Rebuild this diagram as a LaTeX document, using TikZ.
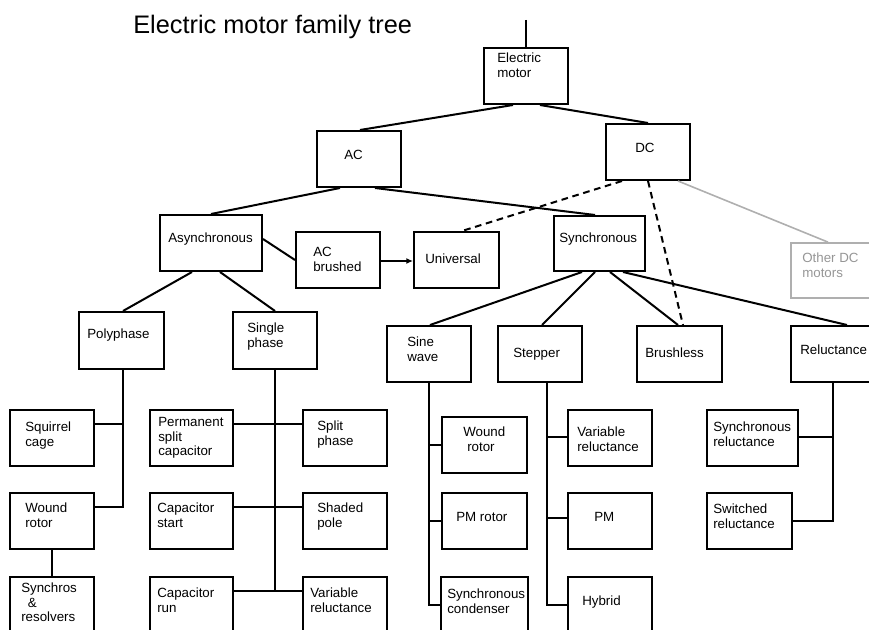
\documentclass[tikz,border=0pt]{standalone}
\usepackage{fontspec}
\setmainfont{Liberation Sans}
\usetikzlibrary{fit,arrows.meta}
\definecolor{lgray}{RGB}{175,175,175}
\definecolor{tgray}{RGB}{150,150,150}
\begin{document}
\begin{tikzpicture}[x=0.75pt,y=-0.75pt,
  box/.style={draw, line width=1.5pt, inner sep=0pt},
  gbox/.style={draw=lgray, line width=1.3pt, inner sep=0pt},
  lbl/.style={font=\fontsize{10}{10.6}\selectfont, inner sep=0pt, anchor=base west, align=left},
  twol/.style={yshift=-10.6pt},
  threel/.style={yshift=-21.2pt},
  conn/.style={line width=1.5pt},
  dconn/.style={line width=1.5pt, dash pattern=on 5pt off 3.5pt},
  gconn/.style={line width=1.2pt, draw=lgray}]
\useasboundingbox (0,0) rectangle (869,630);
\clip (0,0) rectangle (869,630);

% title
\node[inner sep=0pt, anchor=base west, font=\fontsize{19}{22}\selectfont] (title) at (133,34) {Electric motor family tree};

% boxes
\node[box, fit={(484,48)(568,104)}] (em) {};
\node[box, fit={(317,131)(401,187)}] (ac) {};
\node[box, fit={(606,124)(690,180)}] (dc) {};
\node[box, fit={(160,215)(262,271)}] (async) {};
\node[box, fit={(296,232)(380,288)}] (acb) {};
\node[box, fit={(414,232)(499,288)}] (univ) {};
\node[box, fit={(554,216)(645,271)}] (sync) {};
\node[gbox, fit={(791,243)(875,298)}] (other) {};
\node[box, fit={(79,312)(164,369)}] (poly) {};
\node[box, fit={(233,312)(317,369)}] (single) {};
\node[box, fit={(10,410)(94,466)}] (sq) {};
\node[box, fit={(10,493)(94,549)}] (wr) {};
\node[box, fit={(10,577)(94,634)}] (synchros) {};
\node[box, fit={(150,410)(233,466)}] (psc) {};
\node[box, fit={(303,410)(387,466)}] (split) {};
\node[box, fit={(150,493)(233,549)}] (cstart) {};
\node[box, fit={(303,493)(387,549)}] (shaded) {};
\node[box, fit={(150,577)(233,634)}] (crun) {};
\node[box, fit={(303,577)(387,634)}] (vra) {};
\node[box, fit={(387,326)(471,382)}] (sine) {};
\node[box, fit={(498,326)(582,382)}] (stepper) {};
\node[box, fit={(637,326)(722,382)}] (brushless) {};
\node[box, fit={(791,326)(875,382)}] (reluct) {};
\node[box, fit={(442,417)(527,473)}] (wrb) {};
\node[box, fit={(442,493)(527,549)}] (pmr) {};
\node[box, fit={(441,577)(528,634)}] (scond) {};
\node[box, fit={(568,410)(652,466)}] (vrb) {};
\node[box, fit={(568,493)(652,549)}] (pm) {};
\node[box, fit={(568,577)(652,634)}] (hybrid) {};
\node[box, fit={(707,410)(798,466)}] (sr) {};
\node[box, fit={(707,493)(792,549)}] (swr) {};

% labels (given position = baseline of first line)
\node[lbl, twol] (t-em) at (497,63) {Electric\\motor};
\node[lbl] (t-ac) at (344,160) {AC};
\node[lbl] (t-dc) at (635,153) {DC};
\node[lbl] (t-async) at (168,243) {Asynchronous};
\node[lbl, twol] (t-acb) at (313,257) {AC\\brushed};
\node[lbl] (t-univ) at (425,264) {Universal};
\node[lbl] (t-sync) at (559,243) {Synchronous};
\node[lbl, twol, text=tgray] (t-other) at (802,263) {Other DC\\motors};
\node[lbl] (t-poly) at (87,339) {Polyphase};
\node[lbl, twol] (t-single) at (247,333) {Single\\phase};
\node[lbl, twol] (t-sq) at (25,432) {Squirrel\\cage};
\node[lbl, twol] (t-wr) at (25,513) {Wound\\rotor};
\node[lbl, threel] (t-synchros) at (21,593) {Synchros\\\hspace{5pt}\&\\resolvers};
\node[lbl, threel] (t-psc) at (158,427) {Permanent\\split\\capacitor};
\node[lbl, twol] (t-split) at (317,431) {Split\\phase};
\node[lbl, twol] (t-cstart) at (157,513) {Capacitor\\start};
\node[lbl, twol] (t-shaded) at (317,513) {Shaded\\pole};
\node[lbl, twol] (t-crun) at (157,598) {Capacitor\\run};
\node[lbl, twol] (t-vra) at (310,598) {Variable\\reluctance};
\node[lbl, twol] (t-sine) at (407,347) {Sine\\wave};
\node[lbl] (t-stepper) at (513,358) {Stepper};
\node[lbl] (t-brushless) at (645,358) {Brushless};
\node[lbl] (t-reluct) at (800,355) {Reluctance};
\node[lbl, twol] (t-wrb) at (463,437) {Wound\\\hspace{3pt}rotor};
\node[lbl] (t-pmr) at (456,522) {PM rotor};
\node[lbl, twol] (t-scond) at (447,599) {Synchronous\\condenser};
\node[lbl, twol] (t-vrb) at (577,437) {Variable\\reluctance};
\node[lbl] (t-pm) at (594,522) {PM};
\node[lbl] (t-hybrid) at (582,606) {Hybrid};
\node[lbl, twol] (t-sr) at (713,432) {Synchronous\\reluctance};
\node[lbl, twol] (t-swr) at (713,514) {Switched\\reluctance};

% connectors
\coordinate (top) at (526,20);
\draw[conn] (top) -- (em.north);
\draw[conn] (513,0 |- em.south) -- (360,0 |- ac.north);
\draw[conn] (540,0 |- em.south) -- (dc.north);
\draw[conn] (340,0 |- ac.south) -- (async.north);
\draw[conn] (375,0 |- ac.south) -- (595,0 |- sync.north);
\draw[conn] (async.east |- 0,239) -- (acb.west |- 0,260);
\draw[line width=1pt, -{Latex[length=5pt,width=4.5pt]}] (acb.east |- 0,261) -- (univ.west |- 0,261);
\draw[dconn] (622,0 |- dc.south) -- (462,0 |- univ.north);
\draw[dconn] (648,0 |- dc.south) -- (683,0 |- brushless.north);
\draw[gconn] (678,0 |- dc.south) -- (828,0 |- other.north);
\draw[conn] (192,0 |- async.south) -- (123,0 |- poly.north);
\draw[conn] (220,0 |- async.south) -- (275,0 |- single.north);
\draw[conn] (582,0 |- sync.south) -- (430,0 |- sine.north);
\draw[conn] (595,0 |- sync.south) -- (542,0 |- stepper.north);
\draw[conn] (610,0 |- sync.south) -- (678,0 |- brushless.north);
\draw[conn] (623,0 |- sync.south) -- (847,0 |- reluct.north);
% polyphase
\draw[conn] (123,0 |- poly.south) |- (wr.east |- 0,507);
\draw[conn] (sq.east |- 0,424) -- (123,424);
\draw[conn] (52,0 |- wr.south) -- (52,0 |- synchros.north);
% single phase
\draw[conn] (275,0 |- single.south) -- (275,591);
\draw[conn] (psc.east |- 0,424) -- (split.west |- 0,424);
\draw[conn] (cstart.east |- 0,507) -- (shaded.west |- 0,507);
\draw[conn] (crun.east |- 0,591) -- (vra.west |- 0,591);
% sine wave
\draw[conn] (429,0 |- sine.south) |- (scond.west |- 0,605);
\draw[conn] (429,445) -- (wrb.west |- 0,445);
\draw[conn] (429,521) -- (pmr.west |- 0,521);
% stepper
\draw[conn] (547,0 |- stepper.south) |- (hybrid.west |- 0,605);
\draw[conn] (547,437) -- (vrb.west |- 0,437);
\draw[conn] (547,518) -- (pm.west |- 0,518);
% reluctance
\draw[conn] (833,0 |- reluct.south) |- (swr.east |- 0,521);
\draw[conn] (sr.east |- 0,437) -- (833,437);
\end{tikzpicture}
\end{document}
